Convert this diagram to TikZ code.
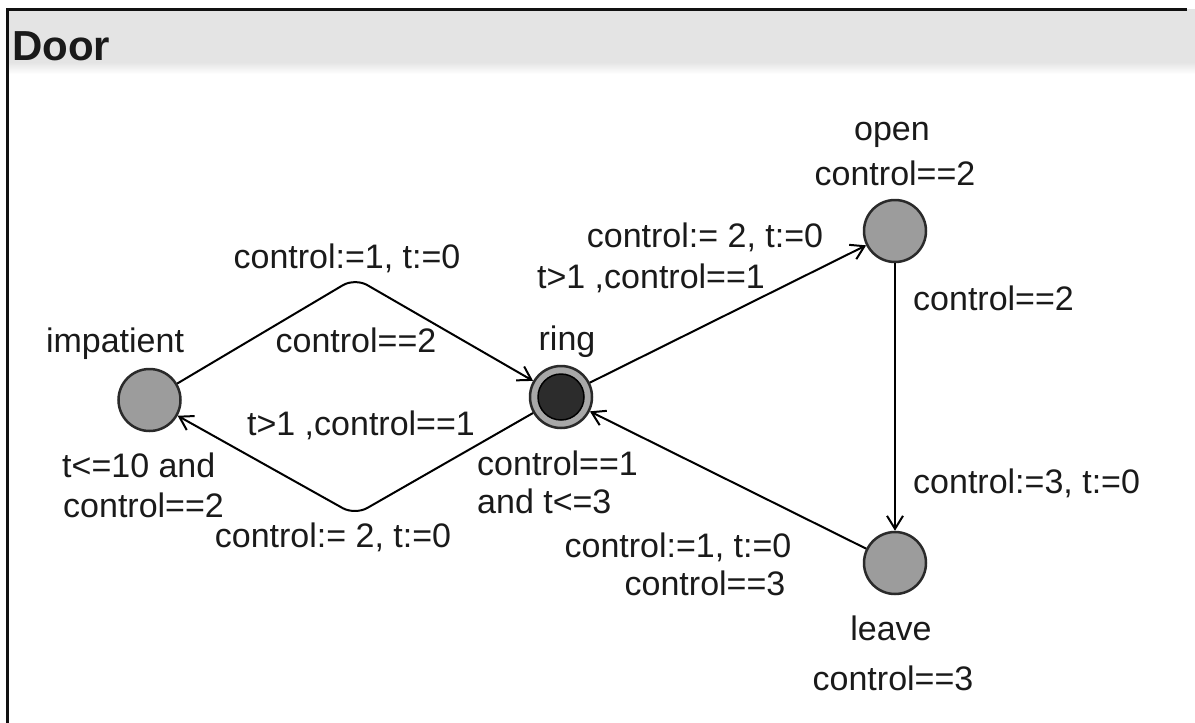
\documentclass[tikz,border=0pt]{standalone}
\usepackage{fontspec}
\setmainfont{Liberation Sans}
\usetikzlibrary{arrows.meta}
\definecolor{txt}{HTML}{1A1A1A}
\definecolor{locfill}{HTML}{9C9C9C}
\definecolor{locborder}{HTML}{2A2A2A}
\definecolor{ringfill}{HTML}{A8A8A8}
\definecolor{ringcore}{HTML}{2C2C2C}
\definecolor{titlegray}{HTML}{E4E4E4}
\definecolor{framecol}{HTML}{111111}
\begin{document}
\begin{tikzpicture}[x=1pt,y=-1pt,
  lbl/.style={inner sep=0pt, font=\fontsize{34}{40}\selectfont, text=txt},
  loc/.style={circle, draw=locborder, line width=2.5pt, fill=locfill, minimum size=62pt, inner sep=0pt},
  initloc/.style={circle, draw=locborder, line width=2.5pt, fill=ringfill, minimum size=62pt, inner sep=0pt},
  initcore/.style={circle, draw=black, line width=1.5pt, fill=ringcore, minimum size=46pt, inner sep=0pt},
  edge/.style={draw=black, line width=2pt, -{Straight Barb[length=13pt,width=16pt,line width=2pt]}},
]
\useasboundingbox (0,0) rectangle (1195,723);
\fill[white] (0,0) rectangle (1195,723);
% title band
\fill[titlegray] (8,9) rectangle (1195,62);
\shade[top color=titlegray, bottom color=white] (8,62) rectangle (1195,74);
\draw[line width=3pt, framecol] (1187,9) -- (7,9) -- (7,723);
\node[inner sep=0pt, anchor=base west, font=\fontsize{42}{48}\bfseries\selectfont, text=txt] (title) at (12,60) {Door};

% locations
\node[loc] (imp) at (149.5,400) {};
\node[initloc] (ring) at (561,397) {};
\node[initcore] (ringin) at (ring) {};
\node[loc] (open) at (895,231) {};
\node[loc] (leave) at (895,563) {};

% corner points
\coordinate (c1) at (355,278);
\coordinate (c2) at (355,515);

% edges
\draw[edge, rounded corners=14pt] (imp) -- (c1) -- (ring);
\draw[edge, rounded corners=14pt] (ring) -- (c2) -- (imp);
\draw[edge] (ring) -- (open);
\draw[edge] (open) -- (leave);
\draw[edge] (leave) -- (ring);

% location labels
\node[lbl, anchor=base] (limp) at (115,352) {impatient};
\node[lbl, anchor=base west] (limpinv1) at (62,477) {t<=10 and};
\node[lbl, anchor=base west] (limpinv2) at (63,517) {control==2};
\node[lbl, anchor=base] (lring) at (567,350) {ring};
\node[lbl, anchor=base west] (lringinv1) at (477,475) {control==1};
\node[lbl, anchor=base west] (lringinv2) at (477,513) {and t<=3};
\node[lbl, anchor=base] (lopen) at (892,140) {open};
\node[lbl, anchor=base] (lopeninv) at (895,185) {control==2};
\node[lbl, anchor=base] (lleave) at (891,640) {leave};
\node[lbl, anchor=base] (lleaveinv) at (893,690) {control==3};

% edge labels
\node[lbl, anchor=base] (e1a) at (347,268) {control:=1, t:=0};
\node[lbl, anchor=base] (e1g) at (356,352) {control==2};
\node[lbl, anchor=base] (e2g) at (361,435) {t>1 ,control==1};
\node[lbl, anchor=base] (e2a) at (333,547) {control:= 2, t:=0};
\node[lbl, anchor=base] (e3a) at (705,247) {control:= 2, t:=0};
\node[lbl, anchor=base] (e3g) at (651,288) {t>1 ,control==1};
\node[lbl, anchor=base west] (e4g) at (913,310) {control==2};
\node[lbl, anchor=base west] (e4a) at (913,493) {control:=3, t:=0};
\node[lbl, anchor=base] (e5a) at (678,557) {control:=1, t:=0};
\node[lbl, anchor=base] (e5g) at (705,595) {control==3};
\end{tikzpicture}
\end{document}
